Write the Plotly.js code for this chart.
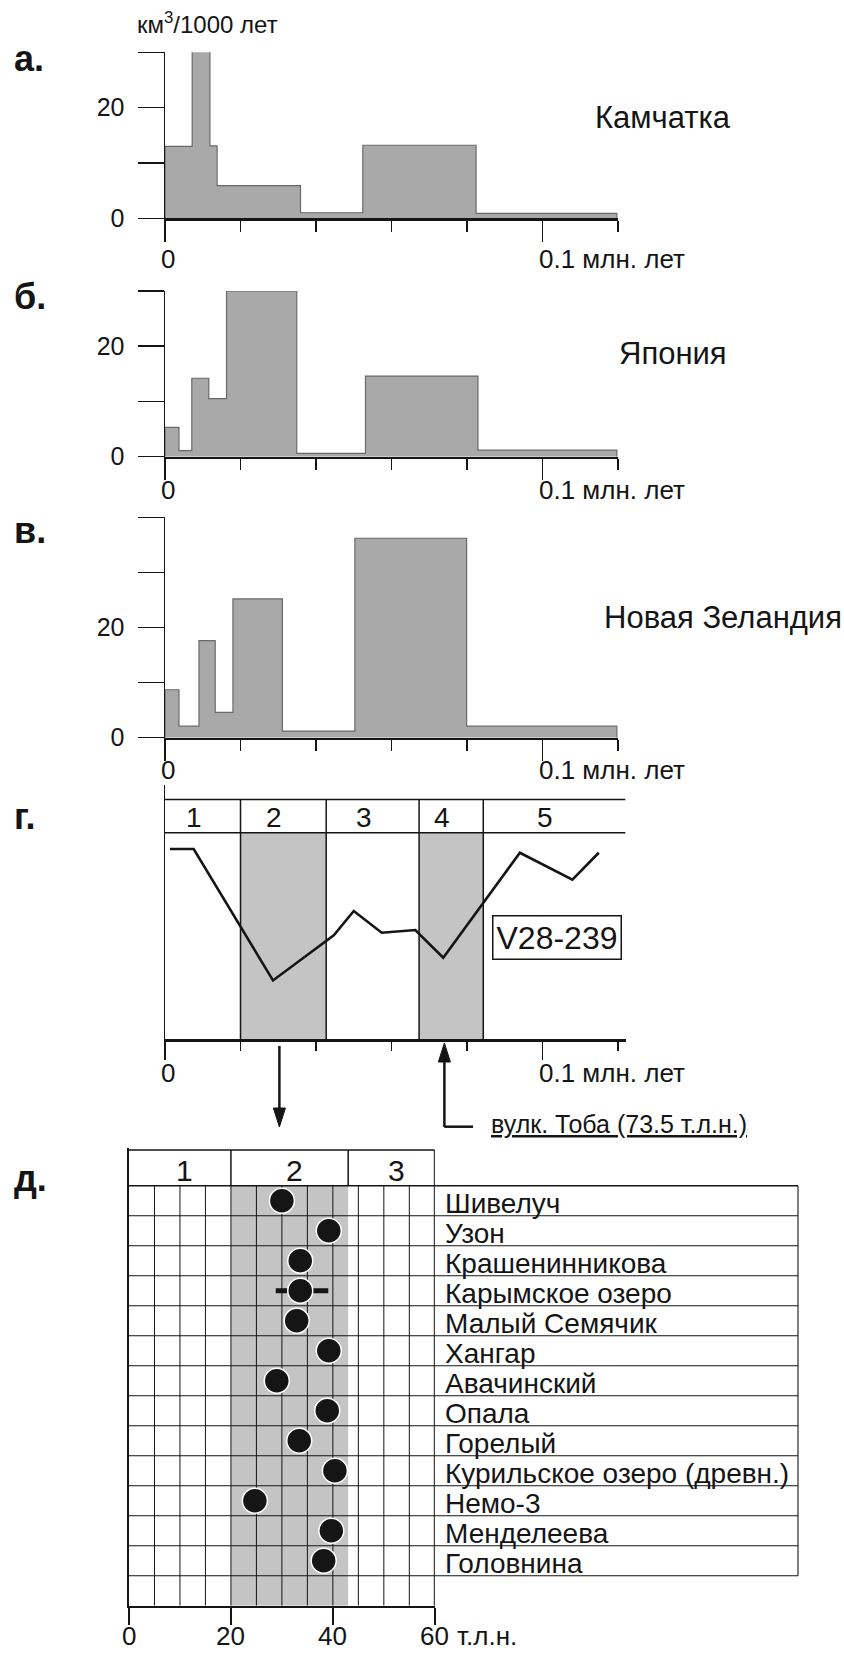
<!DOCTYPE html>
<html><head><meta charset="utf-8">
<script src="https://cdn.plot.ly/plotly-3.0.1.min.js"></script>
<style>html,body{margin:0;padding:0;background:#fff}</style>
</head><body><div id="chart" style="width:844px;height:1653px"></div>
<script>
const W = 844, H = 1653;
const FONT = 'Liberation Sans, Arial, Helvetica, sans-serif';
const INK = '#151515';

// ---------- DATA ----------
// а. Камчатка (km3 / 1000 yr), bin edges in thousand years
const edgesKam = [0, 7.2, 11.9, 13.8, 35.9, 52.4, 82.4, 119.7];
const valsKam  = [13.0, 30.3, 13.1, 5.9, 1.0, 13.2, 0.9];
// б. Япония
const edgesJap = [0, 3.7, 7.1, 11.6, 16.3, 34.9, 53.1, 82.9, 119.7];
const valsJap  = [5.3, 1.1, 14.2, 10.5, 30.0, 0.6, 14.6, 1.2];
// в. Новая Зеландия
const edgesNZ = [0, 3.7, 9.0, 13.3, 18.0, 31.1, 50.3, 79.9, 119.7];
const valsNZ  = [8.7, 2.1, 17.6, 4.6, 25.2, 1.2, 36.2, 2.1];
const regionNames = ['Камчатка', 'Япония', 'Новая Зеландия'];
const panelLetters = ['а.', 'б.', 'в.', 'г.', 'д.'];
const yTicksA = [0, 10, 20, 30];
const yTicksC = [0, 10, 20, 30, 40];
const yTickText = {0: '0', 20: '20'};
const xMajor = [0, 100];
const xMajorText = ['0', '0.1 млн. лет'];
const xMinor = [20, 40, 60, 80, 120];
const yUnit = 'км<sup>3</sup>/1000 лет';

// г. V28-239 curve
const v28Age = [1.3, 7.6, 28.6, 44.7, 50.0, 57.4, 66.3, 73.7, 94.0, 107.9, 114.9];
const v28Val = [92.1, 92.1, 28.5, 50.3, 62.1, 51.6, 52.9, 39.5, 90.3, 77.3, 90.3];
const stageBounds = [0, 20, 42.7, 67.3, 84.3, 122];
const stageLabels = ['1', '2', '3', '4', '5'];
const stageShaded = [false, true, false, true, false];
const coreName = 'V28-239';
const tobaText = 'вулк. Тоба (73.5 т.л.н.)';
const tobaAge = 74.0;
const arrowDownAge = 30.3;

// д. volcano ages (thousand years)
const volcanoes = ['Шивелуч', 'Узон', 'Крашенинникова', 'Карымское озеро', 'Малый Семячик',
  'Хангар', 'Авачинский', 'Опала', 'Горелый', 'Курильское озеро (древн.)', 'Немо-3',
  'Менделеева', 'Головнина'];
const volcAge = [30.0, 39.2, 33.6, 33.6, 32.9, 39.2, 29.0, 38.9, 33.4, 40.4, 24.7, 39.7, 38.2];
const volcErrPlus  = [0, 0, 0, 5.5, 0, 0, 0, 0, 0, 0, 0, 0, 0];
const volcErrMinus = [0, 0, 0, 4.8, 0, 0, 0, 0, 0, 0, 0, 0, 0];
const stageBoundsD = [0, 20, 43, 60];
const stageLabelsD = ['1', '2', '3'];
const shadedD = [20, 43];
const xTicksD = [0, 20, 40, 60];
const xUnitD = 'т.л.н.';
const nRows = 14;

// ---------- helpers ----------
const px = v => v / W;
const py = v => 1 - v / H;
const xd = (a, b) => [a / W, b / W];
const yd = (top, bot) => [1 - bot / H, 1 - top / H];

function stepXY(edges, vals) {
  const x = [edges[0]], y = [0];
  for (let i = 0; i < vals.length; i++) { x.push(edges[i]); y.push(vals[i]); }
  x.push(edges[edges.length - 1]); y.push(0);
  return {x, y};
}
function histTrace(edges, vals, n) {
  const s = stepXY(edges, vals);
  return {x: s.x, y: s.y, xaxis: 'x' + n, yaxis: 'y' + n, type: 'scatter', mode: 'lines',
    line: {shape: 'hv', color: '#6a6a6a', width: 1.2}, fill: 'tozeroy', fillcolor: '#a9a9a9',
    hoverinfo: 'skip'};
}
function histX(domain, anchor, range, tl, mtl) {
  return {domain, anchor, range, showline: true, linecolor: INK, linewidth: 2.5,
    ticks: 'outside', tickmode: 'array', tickvals: xMajor, ticklen: tl, tickwidth: 1.5, tickcolor: INK,
    showticklabels: false, showgrid: false, zeroline: false, fixedrange: true,
    minor: {tickmode: 'array', tickvals: xMinor, ticks: 'outside', ticklen: mtl, tickwidth: 1.5,
      tickcolor: INK, showgrid: false}};
}
function histY(domain, anchor, range, tv) {
  return {domain, anchor, range, showline: true, linecolor: INK, linewidth: 1.5,
    ticks: 'outside', tickmode: 'array', tickvals: tv, ticktext: tv.map(v => yTickText[v] || ''),
    ticklen: 26, tickwidth: 1.5, tickcolor: INK, ticklabelstandoff: 8,
    tickfont: {size: 25, color: INK, family: FONT},
    showgrid: false, zeroline: false, fixedrange: true};
}

// ---------- traces ----------
const traces = [
  histTrace(edgesKam, valsKam, ''),
  histTrace(edgesJap, valsJap, '2'),
  histTrace(edgesNZ, valsNZ, '3'),
  {x: v28Age, y: v28Val, xaxis: 'x4', yaxis: 'y4', type: 'scatter', mode: 'lines',
    line: {color: INK, width: 2.6}, hoverinfo: 'skip'},
  {x: volcAge, y: volcanoes.map((_, i) => i + 0.5), xaxis: 'x5', yaxis: 'y5', type: 'scatter',
    mode: 'markers', cliponaxis: false,
    marker: {size: 25, color: INK, line: {color: '#ffffff', width: 1.5}},
    error_x: {type: 'data', symmetric: false, array: volcErrPlus, arrayminus: volcErrMinus,
      thickness: 5, width: 0, color: INK},
    hoverinfo: 'skip'}
];
traces[0].xaxis = 'x'; traces[0].yaxis = 'y';

// ---------- shapes ----------
const shapes = [];
// г: stage shading and borders
for (let i = 0; i < stageLabels.length; i++) {
  if (stageShaded[i]) shapes.push({type: 'rect', xref: 'x4', yref: 'y4', x0: stageBounds[i], x1: stageBounds[i + 1],
    y0: 0, y1: 100, fillcolor: '#c4c4c4', line: {width: 0}, layer: 'below'});
}
const HDR_TOP = 116.1, HDR_BOT = 100;
for (let i = 1; i < stageBounds.length - 1; i++) {
  shapes.push({type: 'line', xref: 'x4', yref: 'y4', x0: stageBounds[i], x1: stageBounds[i],
    y0: 0, y1: HDR_TOP, line: {color: INK, width: 1.5}});
}
[HDR_BOT, HDR_TOP].forEach(yv => shapes.push({type: 'line', xref: 'x4', yref: 'y4',
  x0: stageBounds[0], x1: stageBounds[stageBounds.length - 1], y0: yv, y1: yv, line: {color: INK, width: 1.5}}));

// arrows (shaft + narrow filled head), x in г axis units, y in page pixels
const HEAD_HALF = 1.6, HEAD_LEN = 19;
function arrow(xv, yTail, yTip) {
  const dir = yTip > yTail ? 1 : -1;
  const yBase = yTip - dir * HEAD_LEN;
  shapes.push({type: 'line', xref: 'x4', yref: 'paper', x0: xv, x1: xv, y0: py(yTail), y1: py(yBase + dir * 2),
    line: {color: INK, width: 2.5}});
  shapes.push({type: 'path', xref: 'x4', yref: 'paper',
    path: `M${xv - HEAD_HALF},${py(yBase)} L${xv + HEAD_HALF},${py(yBase)} L${xv},${py(yTip)} Z`,
    fillcolor: INK, line: {color: INK, width: 1}});
}
arrow(arrowDownAge, 1046, 1127);
arrow(tobaAge, 1127, 1043);
// Toba arrow foot
shapes.push({type: 'line', xref: 'x4', yref: 'paper', x0: tobaAge, x1: tobaAge + 7.6,
  y0: py(1126.7), y1: py(1126.7), line: {color: INK, width: 2.5}});

// д: grid
shapes.push({type: 'rect', xref: 'x5', yref: 'y5', x0: shadedD[0], x1: shadedD[1], y0: 0, y1: nRows,
  fillcolor: '#c4c4c4', line: {width: 0}, layer: 'below'});
for (let v = 5; v < 60; v += 5) {
  shapes.push({type: 'line', xref: 'x5', yref: 'y5', x0: v, x1: v, y0: 0, y1: nRows,
    line: {color: INK, width: 1}, layer: 'below'});
}
const HD_TOP = -1.19;
shapes.push({type: 'line', xref: 'x5', yref: 'y5', x0: 60, x1: 60, y0: HD_TOP, y1: nRows, line: {color: INK, width: 2}});
for (let i = 1; i < stageBoundsD.length - 1; i++) {
  shapes.push({type: 'line', xref: 'x5', yref: 'y5', x0: stageBoundsD[i], x1: stageBoundsD[i], y0: HD_TOP, y1: 0,
    line: {color: INK, width: 1.5}});
}
shapes.push({type: 'line', xref: 'x5', yref: 'y5', x0: 0, x1: 60, y0: HD_TOP, y1: HD_TOP, line: {color: INK, width: 1.5}});
for (let r = 0; r < nRows; r++) {
  shapes.push({type: 'line', xref: 'paper', yref: 'y5', x0: px(129), x1: px(798), y0: r, y1: r,
    line: {color: INK, width: r === 0 ? 1.5 : 1.1}});
}
shapes.push({type: 'line', xref: 'paper', yref: 'y5', x0: px(798), x1: px(798), y0: 0, y1: nRows - 1,
  line: {color: INK, width: 1.1}});

// ---------- annotations ----------
const ann = [];
const T = (o) => Object.assign({showarrow: false, font: {family: FONT, size: 26, color: INK}}, o);
ann.push(T({text: yUnit, xref: 'paper', yref: 'paper', x: px(135), y: py(23), xanchor: 'left', yanchor: 'middle', font: {family: FONT, size: 24, color: INK}}));
const letterY = [58, 296, 530, 816, 1178];
panelLetters.forEach((t, i) => ann.push(T({text: '<b>' + t + '</b>', xref: 'paper', yref: 'paper', x: px(12), y: py(letterY[i]),
  xanchor: 'left', yanchor: 'middle', font: {family: FONT, size: 36, color: INK}})));
const regionPos = [[593, 117.5], [617, 353.5], [602, 618]];
regionNames.forEach((t, i) => ann.push(T({text: t, xref: 'paper', yref: 'paper', x: px(regionPos[i][0]), y: py(regionPos[i][1]),
  xanchor: 'left', yanchor: 'middle', font: {family: FONT, size: 31, color: INK}})));
// x labels for a, b, c, г
const xLabY = [259, 490, 770, 1073];
['x', 'x2', 'x3', 'x4'].forEach((xr, k) => {
  ann.push(T({text: xMajorText[0], xref: xr, yref: 'paper', x: xMajor[0], y: py(xLabY[k]), xanchor: 'center', yanchor: 'middle', xshift: 3}));
  ann.push(T({text: xMajorText[1], xref: xr, yref: 'paper', x: xMajor[1], y: py(xLabY[k]), xanchor: 'left', yanchor: 'middle', xshift: -6}));
});
// г header labels
for (let i = 0; i < stageLabels.length; i++) {
  ann.push(T({text: stageLabels[i], xref: 'x4', yref: 'y4', x: (stageBounds[i] + stageBounds[i + 1]) / 2, y: 107.5,
    xanchor: 'center', yanchor: 'middle', xshift: -9, font: {family: FONT, size: 28, color: INK}}));
}
ann.push(T({text: coreName, xref: 'x4', yref: 'y4', x: 103.7, y: 49.3, xanchor: 'center', yanchor: 'middle',
  bordercolor: INK, borderwidth: 1.5, borderpad: 3, bgcolor: '#ffffff', font: {family: FONT, size: 32, color: INK}}));
ann.push(T({text: '<u>' + tobaText + '</u>', xref: 'x4', yref: 'paper', x: 85.7, y: py(1124), xanchor: 'left', yanchor: 'middle',
  font: {family: FONT, size: 25, color: INK}}));
// д header labels, names, tick labels
for (let i = 0; i < stageLabelsD.length; i++) {
  ann.push(T({text: stageLabelsD[i], xref: 'x5', yref: 'y5', x: (stageBoundsD[i] + stageBoundsD[i + 1]) / 2, y: -0.5,
    xanchor: 'center', yanchor: 'middle', xshift: 5, font: {family: FONT, size: 30, color: INK}}));
}
volcanoes.forEach((t, i) => ann.push(T({text: t, xref: 'paper', yref: 'y5', x: px(443), y: i + 0.5,
  xanchor: 'left', yanchor: 'middle', yshift: -3, font: {family: FONT, size: 28, color: INK}})));
xTicksD.forEach(v => ann.push(T({text: String(v), xref: 'x5', yref: 'paper', x: v, y: py(1636),
  xanchor: 'center', yanchor: 'middle', font: {family: FONT, size: 26, color: INK}})));
ann.push(T({text: xUnitD, xref: 'x5', yref: 'paper', x: 60, y: py(1636), xanchor: 'left', yanchor: 'middle', xshift: 20,
  font: {family: FONT, size: 26, color: INK}}));

// ---------- layout ----------
const layout = {
  width: W, height: H, margin: {l: 0, r: 0, t: 0, b: 0, pad: 0},
  paper_bgcolor: '#ffffff', plot_bgcolor: 'rgba(0,0,0,0)', showlegend: false,
  font: {family: FONT, color: INK},
  xaxis: histX(xd(165, 618), 'y', [0, 120], 21, 11),
  yaxis: histY(yd(52.3, 218.3), 'x', [0, 30], yTicksA),
  xaxis2: histX(xd(165, 618), 'y2', [0, 120], 21, 11),
  yaxis2: histY(yd(291, 456.7), 'x2', [0, 30], yTicksA),
  xaxis3: histX(xd(165, 618), 'y3', [0, 120], 21, 11),
  yaxis3: histY(yd(517.3, 737.7), 'x3', [0, 40], yTicksC),
  xaxis4: histX(xd(165, 625.6), 'y4', [0, 122], 18, 9),
  yaxis4: {domain: yd(785, 1039.3), anchor: 'x4', range: [0, 123.1], showline: true, linecolor: INK, linewidth: 1.5,
    ticks: '', showticklabels: false, showgrid: false, zeroline: false, fixedrange: true},
  xaxis5: {domain: xd(129, 434.8), anchor: 'y5', range: [0, 60], showline: true, linecolor: INK, linewidth: 2.5,
    ticks: 'outside', tickmode: 'array', tickvals: xTicksD, ticklen: 17, tickwidth: 1.5, tickcolor: INK,
    showticklabels: false, showgrid: false, zeroline: false, fixedrange: true},
  yaxis5: {domain: yd(1148.2, 1605.7), anchor: 'x5', range: [nRows, -1.25], showline: true, linecolor: INK, linewidth: 2,
    ticks: '', showticklabels: false, showgrid: false, zeroline: false, fixedrange: true},
  shapes, annotations: ann
};

Plotly.newPlot('chart', traces, layout, {displayModeBar: false, staticPlot: true});
</script></body></html>
